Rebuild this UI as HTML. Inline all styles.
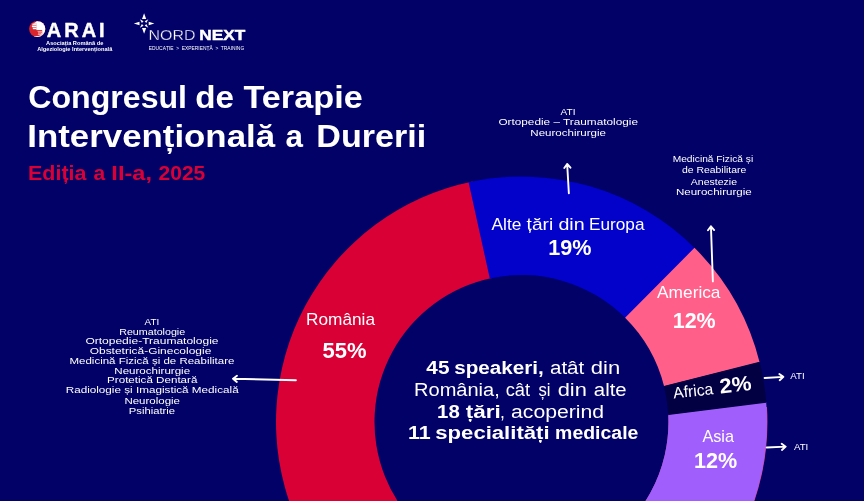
<!DOCTYPE html>
<html lang="ro"><head><meta charset="utf-8"><title>Congresul de Terapie Intervențională a Durerii</title>
<style>
html,body{margin:0;padding:0;background:#010167;}
body{width:864px;height:501px;overflow:hidden;font-family:"Liberation Sans",sans-serif;}
svg{display:block;font-family:"Liberation Sans",sans-serif;will-change:transform;}
</style></head><body>
<svg width="864" height="501" viewBox="0 0 864 501">
<rect width="864" height="501" fill="#010167"/>
<path d="M651.60,630.20 A245.5,245.5 0 1 1 472.56,181.43 L492.19,277.95 A147.0,147.0 0 1 0 599.40,546.66 Z" fill="#d90036"/>
<path d="M468.57,182.27 A245.5,245.5 0 0 1 695.09,248.41 L625.44,318.06 A147.0,147.0 0 0 0 489.81,278.46 Z" fill="#0202ca"/>
<path d="M694.49,247.80 A245.5,245.5 0 0 1 759.60,362.19 L664.07,386.19 A147.0,147.0 0 0 0 625.08,317.69 Z" fill="#ff5f89"/>
<path d="M766.99,406.99 A245.95,245.95 0 0 1 644.48,635.00 L595.00,549.31 A147.0,147.0 0 0 0 668.36,415.59 Z" fill="#e0407a"/>
<path d="M766.17,401.88 A245.5,245.5 0 0 1 644.25,634.61 L595.00,549.31 A147.0,147.0 0 0 0 668.31,414.56 Z" fill="#a05efc"/>
<path d="M759.50,361.78 A245.5,245.5 0 0 1 766.24,402.74 L668.34,415.08 A147.0,147.0 0 0 0 664.01,385.94 Z" fill="#020042"/>
<clipPath id="ac"><circle r="8.1"/></clipPath>
<g transform="translate(37.2 29)"><g clip-path="url(#ac)"><rect x="-9" y="-9" width="18" height="18" fill="#d9252b"/><g fill="#fff"><rect x="-0.8" y="-7.7" width="10" height="8.8"/><path d="M0.5,-7.9 L-0.9,-7.3 L-3.9,-5.5 L-0.7,-5.2 Z"/><rect x="-4.8" y="-5.4" width="4.2" height="1.3"/><rect x="-5.3" y="-3.5" width="4.7" height="1.7"/><rect x="-4.4" y="-1.3" width="3.8" height="1.5"/><rect x="5.0" y="1" width="5" height="8"/><rect x="0.4" y="2.1" width="4.4" height="0.55"/><rect x="0.8" y="3.6" width="4" height="0.8"/><rect x="3.9" y="4.4" width="1" height="0.9"/><rect x="0.6" y="5.2" width="4.2" height="0.5"/><rect x="2.4" y="5.7" width="2.4" height="0.9"/><path d="M-3.2,7.2 Q1,7.2 4.8,6.4 L4.8,9 L-3.2,9 Z"/></g></g></g>
<text x="46.8" y="36.7" font-size="20" font-weight="700" fill="#fff" textLength="57.8" lengthAdjust="spacing" stroke="#fff" stroke-width="0.4">ARAI</text>
<text x="46.1" y="44.6" font-size="5.6" font-weight="700" fill="#fff" textLength="57.3" lengthAdjust="spacingAndGlyphs">Asociația Română de</text>
<text x="37.2" y="51.0" font-size="5.6" font-weight="700" fill="#fff" textLength="75.1" lengthAdjust="spacingAndGlyphs">Algeziologie Intervențională</text>
<g transform="translate(144.1,23.5)" fill="#fff"><path d="M0,-10.3 L2.1,-4.6 L-2.1,-4.6 Z"/><path d="M0,10.3 L2.1,4.6 L-2.1,4.6 Z"/><path d="M-10.3,0 L-4.6,-1.7 L-4.6,1.7 Z"/><path d="M10.3,0 L4.6,-1.7 L4.6,1.7 Z"/><path d="M-4.2,-4.2 L-0.6,-2.2 L-2.2,-0.6 Z"/><path d="M4.2,-4.2 L0.6,-2.2 L2.2,-0.6 Z"/><path d="M-4.2,4.2 L-0.6,2.2 L-2.2,0.6 Z"/><path d="M4.2,4.2 L0.6,2.2 L2.2,0.6 Z"/></g>
<text x="148.6" y="39.6" font-size="15.2" font-weight="400" fill="#fff" textLength="46.8" lengthAdjust="spacingAndGlyphs" stroke="#010167" stroke-width="0.3">NORD</text>
<text x="199.3" y="39.6" font-size="15.0" font-weight="700" fill="#fff" textLength="45.9" lengthAdjust="spacingAndGlyphs" stroke="#fff" stroke-width="0.45">NEXT</text>
<text x="148.8" y="49.7" font-size="6.1" font-weight="400" fill="#fff" textLength="95.4" lengthAdjust="spacingAndGlyphs" xml:space="preserve">EDUCAȚIE  &gt;  EXPERIENȚĂ  &gt;  TRAINING</text>
<text x="28.22" y="108.0" font-size="31.4" font-weight="700" fill="#fff" textLength="158.83" lengthAdjust="spacingAndGlyphs">Congresul</text>
<text x="195.27" y="108.0" font-size="31.4" font-weight="700" fill="#fff" textLength="38.79" lengthAdjust="spacingAndGlyphs">de</text>
<text x="243.46" y="108.0" font-size="31.4" font-weight="700" fill="#fff" textLength="119.27" lengthAdjust="spacingAndGlyphs">Terapie</text>
<text x="27.34" y="147.0" font-size="31.4" font-weight="700" fill="#fff" textLength="247.72" lengthAdjust="spacingAndGlyphs">Intervențională</text>
<text x="285.39" y="147.0" font-size="31.4" font-weight="700" fill="#fff">a</text>
<text x="316.38" y="147.0" font-size="31.4" font-weight="700" fill="#fff" textLength="109.94" lengthAdjust="spacingAndGlyphs">Durerii</text>
<text x="28.00" y="180.0" font-size="21.0" font-weight="700" fill="#d90036" textLength="58.44" lengthAdjust="spacingAndGlyphs">Ediția</text>
<text x="93.50" y="180.0" font-size="21.0" font-weight="700" fill="#d90036">a</text>
<text x="111.37" y="180.0" font-size="21.0" font-weight="700" fill="#d90036" textLength="40.61" lengthAdjust="spacingAndGlyphs">II-a,</text>
<text x="158.57" y="180.0" font-size="21.0" font-weight="700" fill="#d90036" textLength="46.75" lengthAdjust="spacingAndGlyphs">2025</text>
<text x="491.50" y="230.0" font-size="16.2" font-weight="400" fill="#fff" textLength="29.85" lengthAdjust="spacingAndGlyphs">Alte</text>
<text x="526.61" y="230.0" font-size="16.2" font-weight="400" fill="#fff" textLength="26.61" lengthAdjust="spacingAndGlyphs">țări</text>
<text x="558.41" y="230.0" font-size="16.2" font-weight="400" fill="#fff" textLength="26.26" lengthAdjust="spacingAndGlyphs">din</text>
<text x="589.02" y="230.0" font-size="16.2" font-weight="400" fill="#fff" textLength="55.49" lengthAdjust="spacingAndGlyphs">Europa</text>
<text x="548.3" y="255.0" font-size="21.8" font-weight="700" fill="#fff" textLength="43.2" lengthAdjust="spacingAndGlyphs">19%</text>
<text x="657.1" y="297.8" font-size="16.2" font-weight="400" fill="#fff" textLength="63.4" lengthAdjust="spacingAndGlyphs">America</text>
<text x="672.7" y="328.2" font-size="21.8" font-weight="700" fill="#fff" textLength="43.0" lengthAdjust="spacingAndGlyphs">12%</text>
<text x="306.0" y="325.0" font-size="16.2" font-weight="400" fill="#fff" textLength="69.0" lengthAdjust="spacingAndGlyphs">România</text>
<text x="322.5" y="357.5" font-size="21.8" font-weight="700" fill="#fff" textLength="44.0" lengthAdjust="spacingAndGlyphs">55%</text>
<text x="702.4" y="441.7" font-size="16.2" font-weight="400" fill="#fff" textLength="31.6" lengthAdjust="spacingAndGlyphs">Asia</text>
<text x="694.0" y="468.0" font-size="21.8" font-weight="700" fill="#fff" textLength="43.2" lengthAdjust="spacingAndGlyphs">12%</text>
<g transform="rotate(-6.2 673.7 398.3)">
<text x="673.7" y="398.5" font-size="16.0" font-weight="400" fill="#fff" textLength="40.3" lengthAdjust="spacingAndGlyphs">Africa</text>
<text x="720.5" y="398.5" font-size="20.8" font-weight="700" fill="#fff" textLength="32.0" lengthAdjust="spacingAndGlyphs">2%</text>
</g>
<text x="426.39" y="374.0" font-size="17.6" font-weight="700" fill="#fff" textLength="23.08" lengthAdjust="spacingAndGlyphs">45</text>
<text x="454.28" y="374.0" font-size="17.6" font-weight="700" fill="#fff" textLength="89.49" lengthAdjust="spacingAndGlyphs">speakeri,</text>
<text x="549.98" y="374.0" font-size="17.6" font-weight="400" fill="#fff" textLength="34.28" lengthAdjust="spacingAndGlyphs">atât</text>
<text x="590.82" y="374.0" font-size="17.6" font-weight="400" fill="#fff" textLength="29.39" lengthAdjust="spacingAndGlyphs">din</text>
<text x="414.00" y="396.0" font-size="17.6" font-weight="400" fill="#fff" textLength="85.81" lengthAdjust="spacingAndGlyphs">România,</text>
<text x="505.67" y="396.0" font-size="17.6" font-weight="400" fill="#fff" textLength="24.40" lengthAdjust="spacingAndGlyphs">cât</text>
<text x="538.48" y="396.0" font-size="17.6" font-weight="400" fill="#fff" textLength="12.04" lengthAdjust="spacingAndGlyphs">și</text>
<text x="557.73" y="396.0" font-size="17.6" font-weight="400" fill="#fff" textLength="29.18" lengthAdjust="spacingAndGlyphs">din</text>
<text x="593.89" y="396.0" font-size="17.6" font-weight="400" fill="#fff" textLength="32.77" lengthAdjust="spacingAndGlyphs">alte</text>
<text x="437.08" y="418.0" font-size="17.6" font-weight="700" fill="#fff" textLength="22.68" lengthAdjust="spacingAndGlyphs">18</text>
<text x="465.88" y="418.0" font-size="17.6" font-weight="700" fill="#fff" textLength="35.01" lengthAdjust="spacingAndGlyphs">țări</text>
<text x="499.94" y="418.0" font-size="17.6" font-weight="400" fill="#fff">,</text>
<text x="511.05" y="418.0" font-size="17.6" font-weight="400" fill="#fff" textLength="93.07" lengthAdjust="spacingAndGlyphs">acoperind</text>
<text x="407.91" y="439.0" font-size="17.6" font-weight="700" fill="#fff" textLength="22.67" lengthAdjust="spacingAndGlyphs">11</text>
<text x="435.33" y="439.0" font-size="17.6" font-weight="700" fill="#fff" textLength="114.20" lengthAdjust="spacingAndGlyphs">specialități</text>
<text x="555.14" y="439.0" font-size="17.6" font-weight="700" fill="#fff" textLength="83.25" lengthAdjust="spacingAndGlyphs">medicale</text>
<text x="144.6" y="325.0" font-size="9.0" font-weight="400" fill="#fff" textLength="14.6" lengthAdjust="spacingAndGlyphs">ATI</text>
<text x="119.2" y="335.0" font-size="9.0" font-weight="400" fill="#fff" textLength="66.0" lengthAdjust="spacingAndGlyphs">Reumatologie</text>
<text x="85.4" y="344.0" font-size="9.0" font-weight="400" fill="#fff" textLength="133.1" lengthAdjust="spacingAndGlyphs">Ortopedie-Traumatologie</text>
<text x="89.7" y="354.0" font-size="9.0" font-weight="400" fill="#fff" textLength="121.6" lengthAdjust="spacingAndGlyphs">Obstetrică-Ginecologie</text>
<text x="69.5" y="364.0" font-size="9.0" font-weight="400" fill="#fff" textLength="164.9" lengthAdjust="spacingAndGlyphs">Medicină Fizică și de Reabilitare</text>
<text x="114.3" y="374.0" font-size="9.0" font-weight="400" fill="#fff" textLength="75.8" lengthAdjust="spacingAndGlyphs">Neurochirurgie</text>
<text x="107.1" y="383.0" font-size="9.0" font-weight="400" fill="#fff" textLength="90.3" lengthAdjust="spacingAndGlyphs">Protetică Dentară</text>
<text x="65.7" y="393.0" font-size="9.0" font-weight="400" fill="#fff" textLength="173.0" lengthAdjust="spacingAndGlyphs">Radiologie și Imagistică Medicală</text>
<text x="124.4" y="404.0" font-size="9.0" font-weight="400" fill="#fff" textLength="55.6" lengthAdjust="spacingAndGlyphs">Neurologie</text>
<text x="128.8" y="414.0" font-size="9.0" font-weight="400" fill="#fff" textLength="46.3" lengthAdjust="spacingAndGlyphs">Psihiatrie</text>
<text x="560.6" y="114.8" font-size="9.0" font-weight="400" fill="#fff" textLength="14.9" lengthAdjust="spacingAndGlyphs">ATI</text>
<text x="498.4" y="125.2" font-size="9.0" font-weight="400" fill="#fff" textLength="139.6" lengthAdjust="spacingAndGlyphs">Ortopedie – Traumatologie</text>
<text x="530.3" y="135.6" font-size="9.0" font-weight="400" fill="#fff" textLength="75.7" lengthAdjust="spacingAndGlyphs">Neurochirurgie</text>
<text x="672.7" y="161.8" font-size="9.0" font-weight="400" fill="#fff" textLength="80.5" lengthAdjust="spacingAndGlyphs">Medicină Fizică și</text>
<text x="681.9" y="172.8" font-size="9.0" font-weight="400" fill="#fff" textLength="64.4" lengthAdjust="spacingAndGlyphs">de Reabilitare</text>
<text x="690.8" y="184.7" font-size="9.0" font-weight="400" fill="#fff" textLength="46.2" lengthAdjust="spacingAndGlyphs">Anestezie</text>
<text x="675.9" y="194.6" font-size="9.0" font-weight="400" fill="#fff" textLength="75.8" lengthAdjust="spacingAndGlyphs">Neurochirurgie</text>
<text x="790.3" y="378.7" font-size="9.0" font-weight="400" fill="#fff" textLength="14.4" lengthAdjust="spacingAndGlyphs">ATI</text>
<text x="793.9" y="449.9" font-size="9.0" font-weight="400" fill="#fff" textLength="14.4" lengthAdjust="spacingAndGlyphs">ATI</text>
<path d="M568.85,193.30 L567.16,164.00 M570.48,167.71 L567.16,164.00 L564.29,168.07" fill="none" stroke="#fff" stroke-width="1.9" stroke-linecap="round" stroke-linejoin="round"/>
<path d="M712.87,281.40 L710.94,226.30 M714.17,230.09 L710.94,226.30 L707.98,230.31" fill="none" stroke="#fff" stroke-width="1.9" stroke-linecap="round" stroke-linejoin="round"/>
<path d="M295.90,380.28 L233.00,378.73 M236.97,375.72 L233.00,378.73 L236.82,381.92" fill="none" stroke="#fff" stroke-width="1.9" stroke-linecap="round" stroke-linejoin="round"/>
<path d="M764.60,377.95 L783.40,376.86 M779.69,380.18 L783.40,376.86 L779.33,373.99" fill="none" stroke="#fff" stroke-width="1.9" stroke-linecap="round" stroke-linejoin="round"/>
<path d="M766.70,447.46 L785.70,446.65 M781.94,449.91 L785.70,446.65 L781.67,443.72" fill="none" stroke="#fff" stroke-width="1.9" stroke-linecap="round" stroke-linejoin="round"/>
</svg>
</body></html>
